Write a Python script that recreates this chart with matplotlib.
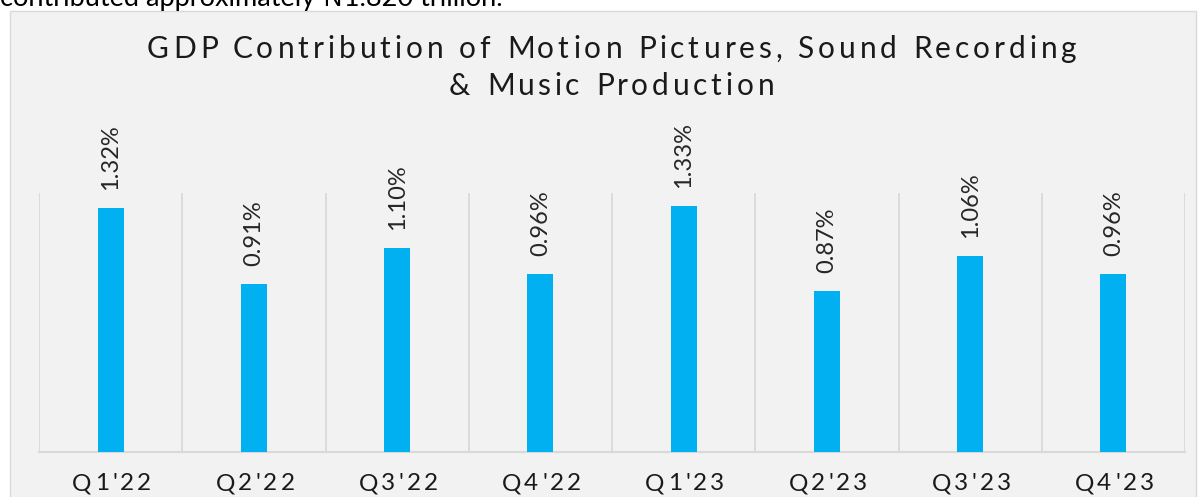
import matplotlib.pyplot as plt
import numpy as np
from matplotlib.patches import Rectangle
from matplotlib.font_manager import FontProperties, findfont
from matplotlib.ft2font import FT2Font

quarters = ["Q1'22", "Q2'22", "Q3'22", "Q4'22", "Q1'23", "Q2'23", "Q3'23", "Q4'23"]
gdp_share = [1.32, 0.91, 1.10, 0.96, 1.33, 0.87, 1.06, 0.96]
title_lines = ["GDP Contribution of Motion Pictures, Sound Recording", "& Music Production"]

W, H, DPI = 1200, 497, 100
bar_color = "#00B0F0"
grid_color = "#D9D9D9"
panel_color = "#F2F2F2"
text_color = "#1A1A1A"
font = ["Lato", "DejaVu Sans"]

fig = plt.figure(figsize=(W / DPI, H / DPI), dpi=DPI)
fig.patch.set_facecolor("white")


def glyph_metrics(s, size):
    # advance and left bearing of each character, in pixels
    f = FT2Font(findfont(FontProperties(family=font)))
    f.set_size(size, DPI)
    out = []
    for c in s:
        g = f.load_char(ord(c))
        out.append((g.linearHoriAdvance / 65536, g.horiBearingX / 64))
    return out


def spaced_text(xc, y, s, size, width=None, tracking=0.0, color=text_color):
    # letter-spaced text centred on xc (pixels), baseline at y (pixels from top)
    m = glyph_metrics(s, size)
    natural = sum(a for a, _ in m)
    if width is not None:
        tracking = (width - natural) / (len(s) - 1)
    total = natural + tracking * (len(s) - 1)
    x = xc - total / 2
    for c, (adv, lsb) in zip(s, m):
        if c != " ":
            fig.text((x + lsb) / W, 1 - y / H, c, fontsize=size, family=font,
                     color=color, ha="left", va="baseline")
        x += adv + tracking
    return tracking


# grey chart panel behind the plot
panel = Rectangle((10 / W, -0.05), 1186 / W, 1 - 11 / H + 0.05,
                  transform=fig.transFigure, facecolor=panel_color,
                  edgecolor=grid_color, linewidth=1.0, zorder=-5)
fig.patches.append(panel)

# cut off line of text from the page above the chart
fig.text(0.0, 1 - 6 / H, "contributed approximately \u20a61.820 trillion.",
         fontsize=19.5, family=font, color="black", va="baseline", ha="left")

ax_left, ax_width = 39, 1146
ax = fig.add_axes([ax_left / W, 45 / H, ax_width / W, (452 - 193) / H])
ax.set_facecolor("none")

x = np.arange(len(quarters))
ax.bar(x, gdp_share, width=0.18, color=bar_color, zorder=3)

for xi, v in zip(x, gdp_share):
    ax.annotate("{:.2f}%".format(v), (xi, v), xytext=(0, 13), textcoords="offset points",
                rotation=90, ha="center", va="bottom", fontsize=17, family=font,
                color="#262626")

ax.set_xlim(-0.5, len(quarters) - 0.5)
ax.set_ylim(0, 1.4)
ax.set_xticks(x)
ax.set_xticklabels([])
ax.tick_params(axis="x", length=0)
ax.set_yticks([])

for b in np.arange(-0.5, len(quarters), 1.0):
    ax.axvline(b, color=grid_color, linewidth=1.3, zorder=1)

for s in ["top", "left", "right"]:
    ax.spines[s].set_visible(False)
ax.spines["bottom"].set_color(grid_color)
ax.spines["bottom"].set_linewidth(1.5)

# category labels, letter-spaced like the original
slot = ax_width / len(quarters)
tick_track = None
for xi, q in zip(x, quarters):
    cx = ax_left + (xi + 0.5) * slot
    if tick_track is None:
        tick_track = spaced_text(cx, 490, q, 17.5, width=79)
    else:
        spaced_text(cx, 490, q, 17.5, tracking=tick_track)

# title
spaced_text(610, 58, title_lines[0], 21.5, width=930)
spaced_text(610, 95, title_lines[1], 21.5, width=325)

fig.savefig("out.png", dpi=DPI, facecolor=fig.get_facecolor())
